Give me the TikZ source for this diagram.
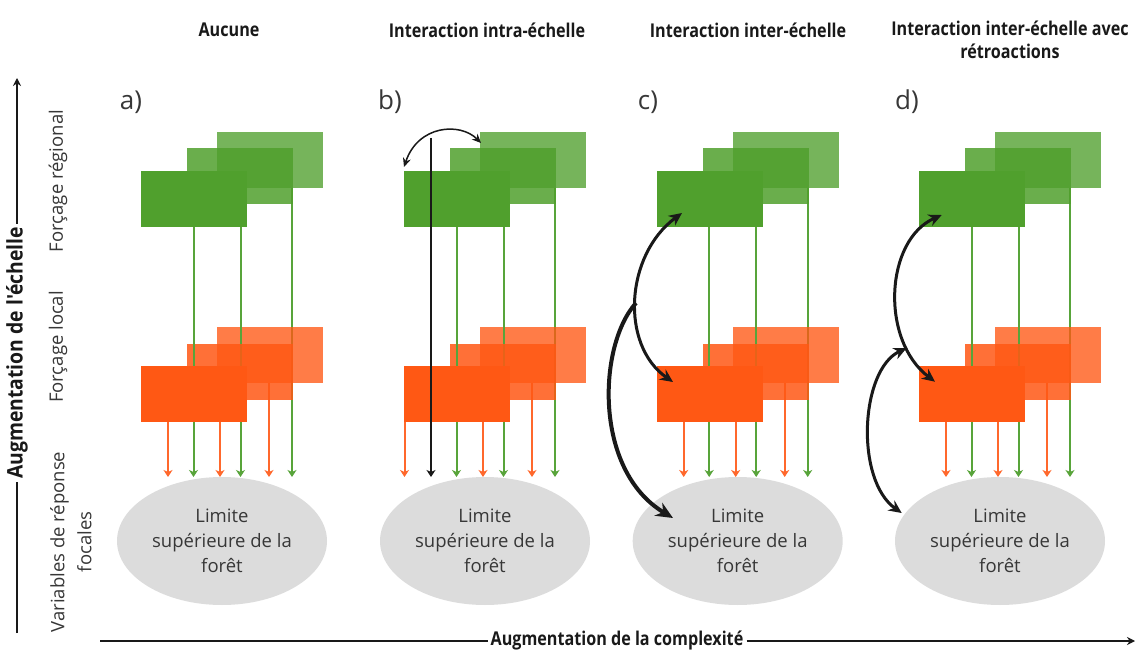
\documentclass[tikz,border=0pt]{standalone}
\usepackage{fontspec}
\setmainfont{Open Sans}
\newfontfamily\hdfont[FakeStretch=0.85]{Open Sans}
\newfontfamily\vafont[FakeStretch=0.9]{Open Sans}
\usetikzlibrary{arrows.meta,shapes.geometric}
\definecolor{G}{RGB}{80,160,45}
\definecolor{O}{RGB}{255,88,20}
\definecolor{Gl}{RGB}{88,164,58}
\definecolor{Ol}{RGB}{255,104,44}
\definecolor{ellc}{RGB}{220,220,220}
\definecolor{txt}{RGB}{55,55,55}
\definecolor{blk}{RGB}{25,25,25}
\tikzset{
  gbox/.style={draw=none, fill=G, minimum width=106pt, minimum height=56pt, inner sep=0pt},
  obox/.style={draw=none, fill=O, minimum width=106pt, minimum height=56pt, inner sep=0pt},
  midlayer/.style={fill opacity=.85},
  backlayer/.style={fill opacity=.78},
  smalltip/.style={-{Stealth[length=7pt,width=9pt,inset=2pt]}},
  garr/.style={draw=Gl, line width=2pt, smalltip},
  oarr/.style={draw=Ol, line width=2pt, smalltip},
  karr/.style={draw=blk, line width=2pt, smalltip},
  thinbi/.style={draw=blk, line width=1.5pt, {Stealth[length=9pt,width=8pt]}-{Stealth[length=9pt,width=8pt]}},
  bigbi/.style={draw=blk, line width=3pt, {Stealth[length=13pt,width=12pt]}-{Stealth[length=13pt,width=12pt]}},
  bigone/.style={draw=blk, line width=4pt, -{Stealth[length=17pt,width=15pt]}},
  forest/.style={ellipse, fill=ellc, minimum width=210pt, minimum height=128pt, inner sep=0pt,
    align=center, text=txt, font=\fontsize{18.5}{25}\selectfont},
  panellab/.style={text=txt, font=\fontsize{26}{30}\selectfont},
  header/.style={text=blk, align=center, font=\hdfont\bfseries\fontsize{19}{23}\selectfont},
  rowlab/.style={text=txt, rotate=90, align=center, font=\fontsize{18.5}{27}\selectfont},
  axlab/.style={text=blk, fill=white, inner sep=3pt, font=\hdfont\bfseries\fontsize{19}{22}\selectfont},
  vaxlab/.style={text=blk, fill=white, inner sep=3pt, font=\vafont\bfseries\fontsize{21.5}{24}\selectfont},
  axline/.style={draw=blk, line width=2pt}
}
\begin{document}
\begin{tikzpicture}[x=1pt,y=-1pt]
\useasboundingbox[fill=white] (0,0) rectangle (1136,655);

% headers
\node[header] (h1) at (229,30) {Aucune};
\node[header] (h2) at (487,30) {Interaction intra-échelle};
\node[header] (h3) at (748,30) {Interaction inter-échelle};
\node[header] (h4) at (1010,39.5) {Interaction inter-échelle avec\\rétroactions};

% panel labels
\node[panellab] (la) at (131,102) {a)};
\node[panellab] (lb) at (390,102) {b)};
\node[panellab] (lc) at (648,102) {c)};
\node[panellab] (ld) at (907,102) {d)};

\foreach \p/\ox/\of in {a/0/168,b/263/141.5,c/515.7/168,d/778/168}{
\begin{scope}[shift={(\ox,0)}]
  \coordinate (\p-to1) at (\of,477);
  \coordinate (\p-to2) at (220,477);
  \coordinate (\p-to3) at (269,477);
  \coordinate (\p-tg1) at (193.5,477);
  \coordinate (\p-tg2) at (240.5,477);
  \coordinate (\p-tg3) at (292,477);
  % back layer
  \node[gbox, backlayer] (\p-g3) at (270,160) {};
  \draw[garr] (\p-g3.south -| \p-tg3) -- (\p-tg3);
  \node[obox, backlayer] (\p-o3) at (270,355) {};
  \draw[oarr] (\p-o3.south -| \p-to3) -- (\p-to3);
  % middle layer
  \node[gbox, midlayer] (\p-g2) at (240,176) {};
  \draw[garr] (\p-g2.south -| \p-tg2) -- (\p-tg2);
  \node[obox, midlayer] (\p-o2) at (240,371.5) {};
  \draw[oarr] (\p-o2.south -| \p-to2) -- (\p-to2);
  % front layer
  \node[gbox] (\p-g1) at (194,199) {};
  \draw[garr] (\p-g1.south -| \p-tg1) -- (\p-tg1);
  \node[obox] (\p-o1) at (194,394) {};
  \draw[oarr] (\p-o1.south -| \p-to1) -- (\p-to1);
  % forest limit
  \node[forest] (\p-f) at (222,541) {Limite\\supérieure de la\\forêt};
\end{scope}
}

% panel b: intra-scale interaction
\coordinate (b-aL) at (404,167);
\coordinate (b-aR) at (481,143);
\coordinate (b-kt) at (431,138);
\coordinate (b-kb) at (431,477);
\draw[thinbi] (b-aL) .. controls (418,125) and (460,122) .. (b-aR);
\draw[karr] (b-kt) -- (b-kb);

% panel c: inter-scale interaction
\coordinate (c-p1) at (682,213);
\coordinate (c-p2) at (673,382);
\coordinate (c-m) at (636,303);
\coordinate (c-e) at (673,518);
\draw[bigbi] (c-p1) .. controls (625,255) and (620,345) .. (c-p2);
\draw[bigone] (c-m) .. controls (598,345) and (593,470) .. (c-e);

% panel d: inter-scale with feedbacks
\coordinate (d-p1) at (941.7,215);
\coordinate (d-p2) at (935,381.7);
\coordinate (d-m) at (906.7,348);
\coordinate (d-e) at (901.7,513);
\draw[bigbi] (d-p1) .. controls (885,240) and (880,340) .. (d-p2);
\draw[bigbi] (d-m) .. controls (860,370) and (855,480) .. (d-e);

% row labels
\node[rowlab] (r1) at (58,181) {Forçage régional};
\node[rowlab] (r2) at (58,347) {Forçage local};
\node[rowlab] (r3) at (71,542) {Variables de réponse\\focales};

% vertical axis
\coordinate (vb) at (17,633);
\coordinate (vt) at (17,78);
\node[vaxlab, rotate=90] (vl) at (17,353) {Augmentation de l'échelle};
\draw[axline] (vb) -- (vl.west);
\draw[axline, -{Stealth[length=8pt,width=8pt]}] (vl.east) -- (vt);

% horizontal axis
\coordinate (hl) at (100,641);
\coordinate (hr) at (1135,641);
\node[axlab] (hlab) at (617,641) {Augmentation de la complexité};
\draw[axline] (hl) -- (hlab.west);
\draw[axline, -{Stealth[length=8pt,width=8pt]}] (hlab.east) -- (hr);
\end{tikzpicture}
\end{document}
